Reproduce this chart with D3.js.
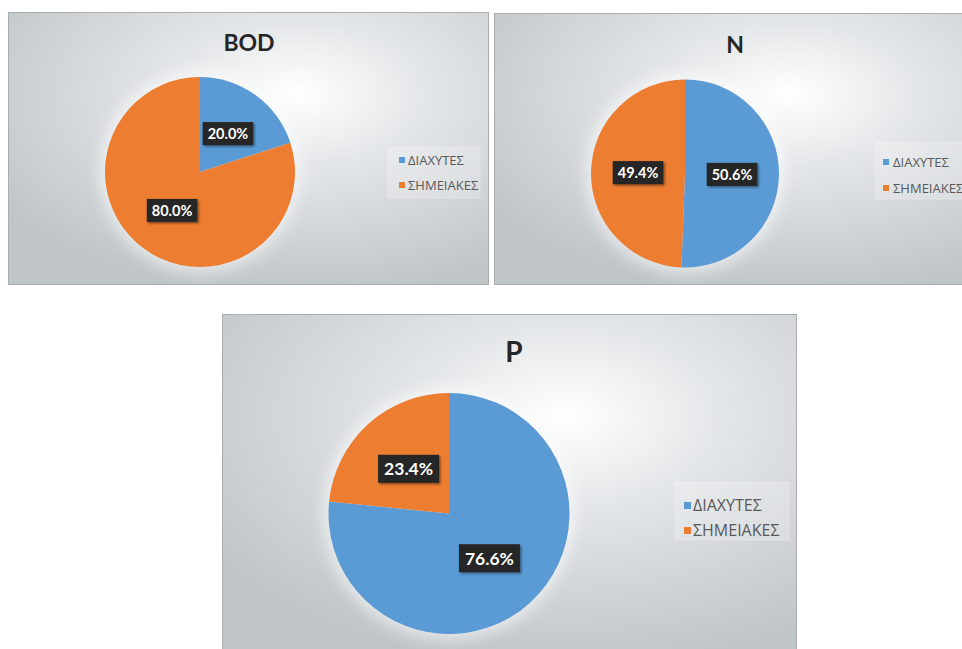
<!DOCTYPE html>
<html>
<head>
<meta charset="utf-8">
<script src="https://cdn.jsdelivr.net/npm/d3@7"></script>
<style>
  html, body { margin: 0; padding: 0; background: #ffffff; }
  svg { display: block; }
</style>
</head>
<body>
<svg id="chart" width="962" height="649"></svg>
<script>
// ---- data ----
const categories = ["ΔΙΑΧΥΤΕΣ", "ΣΗΜΕΙΑΚΕΣ"];
const titles = ["BOD", "N", "P"];
const bodValues = [20.0, 80.0];
const nValues = [50.6, 49.4];
const pValues = [76.6, 23.4];
const seriesColors = ["#5b9bd5", "#ed7d31"];

// ---- layout (positions only) ----
const panels = [
  { title: titles[0], values: bodValues, x: 8, y: 12, w: 481, h: 273,
    cx: 200, cy: 172, r: 95, titleX: 249, titleY: 51, titleSize: 23,
    labelSize: 14.5, boxH: 23, boxPad: 5,
    leg: { x: 388, y: 147, w: 92, h: 51, sqX: 399, sqY: [157, 182], sq: 6, textX: 408, size: 13 } },
  { title: titles[1], values: nValues, x: 494, y: 13, w: 490, h: 272,
    cx: 685, cy: 173.5, r: 94, titleX: 735, titleY: 53, titleSize: 23,
    labelSize: 14.5, boxH: 23, boxPad: 5,
    leg: { x: 875, y: 142, w: 100, h: 57, sqX: 883, sqY: [159, 185], sq: 6, textX: 893, size: 13 } },
  { title: titles[2], values: pValues, x: 222, y: 314, w: 575, h: 340,
    cx: 449, cy: 513.5, r: 120.5, titleX: 514, titleY: 362, titleSize: 28,
    labelSize: 17.5, boxH: 28, boxPad: 6,
    leg: { x: 675, y: 482, w: 114, h: 58, sqX: 684, sqY: [502, 527], sq: 7, textX: 693, size: 16 } }
];

const svg = d3.select("#chart");
const defs = svg.append("defs");

const bg = defs.append("radialGradient").attr("id", "bgGrad")
  .attr("cx", "0.6").attr("cy", "0.3").attr("r", "0.75");
bg.append("stop").attr("offset", "0").attr("stop-color", "#ffffff");
bg.append("stop").attr("offset", "0.35").attr("stop-color", "#e4e7e9");
bg.append("stop").attr("offset", "1").attr("stop-color", "#bfc4c7");

const glow = defs.append("filter").attr("id", "glow")
  .attr("x", "-50%").attr("y", "-50%").attr("width", "200%").attr("height", "200%");
glow.append("feGaussianBlur").attr("stdDeviation", 7);

const shadow = defs.append("filter").attr("id", "boxShadow")
  .attr("x", "-30%").attr("y", "-30%").attr("width", "160%").attr("height", "160%");
shadow.append("feDropShadow").attr("dx", 1.5).attr("dy", 1.5).attr("stdDeviation", 1.2)
  .attr("flood-color", "#000").attr("flood-opacity", 0.45);

const color = d3.scaleOrdinal().domain(categories).range(seriesColors);
const pie = d3.pie().sort(null).value(d => d.value);

panels.forEach((p, i) => {
  const clipId = "clip" + i;
  defs.append("clipPath").attr("id", clipId)
    .append("rect").attr("x", p.x).attr("y", p.y).attr("width", p.w).attr("height", p.h);

  const g = svg.append("g").attr("clip-path", `url(#${clipId})`);

  g.append("rect")
    .attr("x", p.x + 0.5).attr("y", p.y + 0.5)
    .attr("width", p.w - 1).attr("height", p.h - 1)
    .attr("fill", "url(#bgGrad)")
    .attr("stroke", "#a9adb0").attr("stroke-width", 1);

  // title
  g.append("text")
    .attr("x", p.titleX).attr("y", p.titleY)
    .attr("text-anchor", "middle")
    .attr("font-family", "Lato, 'Open Sans', sans-serif")
    .attr("font-weight", "bold")
    .attr("font-size", p.titleSize)
    .attr("fill", "#262626")
    .text(p.title);

  const data = categories.map((c, k) => ({ cat: c, value: p.values[k] }));
  const arcs = pie(data);
  const arc = d3.arc().innerRadius(0).outerRadius(p.r);

  const pg = g.append("g").attr("transform", `translate(${p.cx},${p.cy})`);

  // soft glow around pie
  pg.append("circle").attr("r", p.r + 6)
    .attr("fill", "#ffffff").attr("opacity", 0.55)
    .attr("filter", "url(#glow)");

  pg.selectAll("path.slice").data(arcs).join("path")
    .attr("class", "slice")
    .attr("d", arc)
    .attr("fill", d => color(d.data.cat));

  // data labels
  const lg = pg.selectAll("g.lbl").data(arcs).join("g")
    .attr("class", "lbl")
    .attr("transform", d => `translate(${arc.centroid(d)})`);

  lg.each(function(d) {
    const sel = d3.select(this);
    const rect = sel.append("rect").attr("fill", "#262626").attr("filter", "url(#boxShadow)");
    const t = sel.append("text")
      .attr("text-anchor", "middle")
      .attr("dy", "0.36em")
      .attr("font-family", "Lato, 'Open Sans', sans-serif")
      .attr("font-weight", "bold")
      .attr("font-size", p.labelSize)
      .attr("fill", "#ffffff")
      .text(d3.format(".1f")(d.data.value) + "%");
    const tw = t.node().getComputedTextLength();
    const bw = tw + 2 * p.boxPad;
    rect.attr("x", -bw / 2).attr("y", -p.boxH / 2).attr("width", bw).attr("height", p.boxH);
  });

  // legend
  const L = p.leg;
  g.append("rect")
    .attr("x", L.x).attr("y", L.y).attr("width", L.w).attr("height", L.h)
    .attr("fill", "#ffffff").attr("fill-opacity", 0.22)
    .attr("stroke", "#ffffff").attr("stroke-opacity", 0.25);

  categories.forEach((c, k) => {
    g.append("rect")
      .attr("x", L.sqX).attr("y", L.sqY[k])
      .attr("width", L.sq).attr("height", L.sq)
      .attr("fill", color(c));
    g.append("text")
      .attr("x", L.textX).attr("y", L.sqY[k] + L.sq / 2)
      .attr("dy", "0.36em")
      .attr("font-family", "'Open Sans', 'Noto Sans', sans-serif")
      .attr("font-size", L.size)
      .attr("fill", "#595959")
      .text(c);
  });
});
</script>
</body>
</html>
